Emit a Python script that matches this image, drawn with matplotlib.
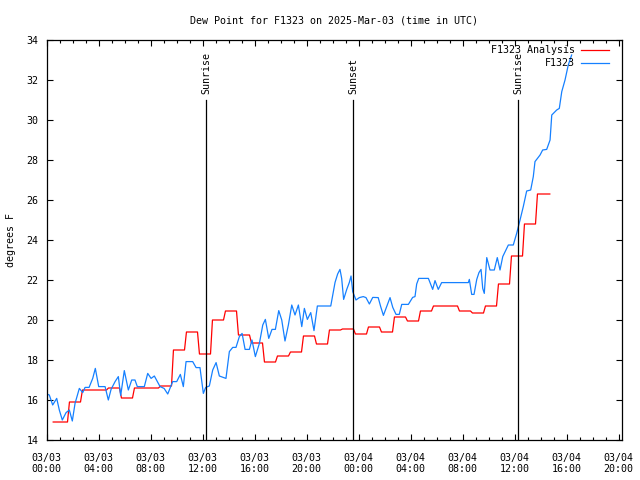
#!/usr/bin/env python
# dew point quicklook: station obs vs hourly analysis, gnuplot-like look
import matplotlib
matplotlib.use('Agg')
from datetime import datetime, timedelta
import matplotlib.pyplot as plt
from matplotlib.dates import HourLocator, DateFormatter, date2num

base = datetime(2025, 3, 3, 0, 0)

# observed dew point (hours after 03/03 00:00 UTC, deg F)
obs_hours = [0.0, 0.2, 0.46, 0.77, 0.97, 1.2, 1.49, 1.74, 1.97, 2.18, 2.51, 2.77,
             2.95, 3.26, 3.54, 3.74, 4.0, 4.49, 4.74, 4.95, 5.26, 5.51, 5.69, 5.97,
             6.28, 6.54, 6.79, 6.97, 7.51, 7.77, 8.03, 8.28, 8.72, 9.03, 9.31, 9.69,
             10.0, 10.28, 10.51, 10.72, 11.23, 11.49, 11.79, 12.05, 12.23, 12.51,
             12.77, 13.03, 13.28, 13.79, 14.05, 14.31, 14.56, 14.82, 15.03, 15.26,
             15.59, 15.79, 16.05, 16.36, 16.62, 16.82, 17.08, 17.33, 17.59, 17.85,
             18.08, 18.33, 18.59, 18.85, 19.1, 19.36, 19.62, 19.82, 20.05, 20.31,
             20.56, 20.82, 21.85, 22.18, 22.38, 22.56, 22.69, 22.84, 23.08, 23.28,
             23.41, 23.54, 23.79, 24.05, 24.35, 24.56, 24.82, 25.08, 25.5, 25.69,
             25.9, 26.15, 26.41, 26.62, 26.87, 27.12, 27.31, 27.82, 28.15, 28.33,
             28.46, 28.62, 29.36, 29.69, 29.87, 30.12, 30.38, 32.43, 32.51, 32.69,
             32.87, 33.08, 33.25, 33.41, 33.54, 33.66, 33.85, 34.1, 34.43, 34.66,
             34.87, 35.08, 35.38, 35.51, 35.89, 36.15, 36.41, 36.66, 36.92, 37.23,
             37.43, 37.56, 37.95, 38.15, 38.46, 38.72, 38.85, 39.23, 39.43, 39.62,
             39.87, 40.12, 40.38]
obs_dewp = [16.3, 16.25, 15.75, 16.08, 15.5, 15.0, 15.37, 15.5, 14.95, 15.83, 16.58, 16.37,
            16.63, 16.63, 17.08, 17.58, 16.67, 16.67, 16.0, 16.53, 16.92, 17.17, 16.22, 17.47,
            16.5, 17.0, 17.0, 16.67, 16.67, 17.33, 17.08, 17.2, 16.67, 16.58, 16.3, 16.92,
            16.92, 17.28, 16.67, 17.92, 17.92, 17.62, 17.62, 16.33, 16.63, 16.7,
            17.5, 17.87, 17.2, 17.08, 18.42, 18.63, 18.63, 19.17, 19.33, 18.53,
            18.53, 19.0, 18.17, 18.83, 19.75, 20.03, 19.08, 19.53, 19.53, 20.47,
            20.0, 18.95, 19.75, 20.75, 20.25, 20.75, 19.67, 20.58, 20.03, 20.37,
            19.47, 20.7, 20.7, 21.88, 22.3, 22.53, 22.08, 21.03, 21.53, 21.88,
            22.2, 21.42, 21.0, 21.12, 21.17, 21.12, 20.8, 21.13, 21.12, 20.67,
            20.23, 20.67, 21.12, 20.63, 20.28, 20.28, 20.78, 20.78, 21.13, 21.17,
            21.8, 22.08, 22.08, 21.53, 21.97, 21.53, 21.87, 21.87, 22.03, 21.28,
            21.28, 22.03, 22.37, 22.53, 21.58, 21.33, 23.12, 22.5, 22.5, 23.12,
            22.5, 23.17, 23.58, 23.75, 23.75, 24.33, 25.0, 25.67, 26.45, 26.5,
            27.17, 27.92, 28.25, 28.5, 28.53, 29.0, 30.25, 30.5, 30.58, 31.42,
            32.0, 32.75, 33.25]

# hourly analysis values, one per hour starting 00:30
anl_dewp = [14.9, 15.9, 16.5, 16.5, 16.6, 16.1, 16.6, 16.6, 16.7, 18.5,
            19.4, 18.3, 20.0, 20.45, 19.25, 18.85, 17.9, 18.2, 18.4, 19.2,
            18.8, 19.5, 19.55, 19.3, 19.65, 19.4, 20.15, 19.95, 20.45, 20.7,
            20.7, 20.45, 20.35, 20.7, 21.8, 23.2, 24.8, 26.3]

# sunrise / sunset (hours after base)
sun_hours = [12.25, 23.57, 36.25]
sun_names = ['Sunrise', 'Sunset', 'Sunrise']

# build the stepped analysis line
anl_x = []
anl_y = []
for i, v in enumerate(anl_dewp):
    if i == 0:
        t0 = 0.5
    else:
        t0 = i + 0.75
    t1 = i + 1.6
    if i == len(anl_dewp) - 1:
        t1 = i + 1.7
    anl_x.extend([t0, t1])
    anl_y.extend([v, v])

def tohours(hrs):
    return [base + timedelta(hours=h) for h in hrs]

fs = 7.2
plt.rcParams['font.family'] = 'DejaVu Sans Mono'
plt.rcParams['font.size'] = fs

fig = plt.figure(figsize=(6.4, 4.8), dpi=100)
ax = fig.add_axes([46.7/640, 40/480, 575/640, 400/480])

ax.plot(tohours(anl_x), anl_y, '-', color='#ff0000', lw=0.9, label='F1323 Analysis')
ax.plot(tohours(obs_hours), obs_dewp, '-', color='#1580ff', lw=0.9, label='F1323')

for h, name in zip(sun_hours, sun_names):
    t = base + timedelta(hours=h)
    ax.plot([t, t], [14, 31], '-', color='black', lw=0.9)
    ax.text(t, 31.3, name, rotation=90, ha='center', va='bottom', fontsize=fs)

ax.set_xlim(date2num(base), date2num(base + timedelta(hours=44.23)))
ax.set_ylim(14, 34)
ax.set_yticks(range(14, 35, 2))
ax.xaxis.set_major_locator(HourLocator(byhour=range(0, 24, 4)))
ax.xaxis.set_minor_locator(HourLocator())
ax.xaxis.set_major_formatter(DateFormatter('%m/%d\n%H:%M'))
ax.tick_params(which='both', direction='in', top=True, right=True, width=0.8)
ax.tick_params(which='major', length=4.5)
ax.tick_params(axis='x', which='major', pad=9)
ax.tick_params(axis='y', which='major', pad=6)
ax.tick_params(which='minor', length=2.5)
for sp in ax.spines.values():
    sp.set_linewidth(0.9)

ax.set_ylabel('degrees F')
ax.yaxis.set_label_coords(-0.054, 0.5)
ax.set_title('Dew Point for F1323 on 2025-Mar-03 (time in UTC)', fontsize=fs, pad=12)

ax.legend(loc='upper right', markerfirst=False, frameon=False, handlelength=2.8,
          handletextpad=0.6, borderaxespad=0.0, borderpad=0.55, labelspacing=0.3,
          fontsize=fs, bbox_to_anchor=(0.988, 1.0))

plt.savefig('out.png', dpi=100)
